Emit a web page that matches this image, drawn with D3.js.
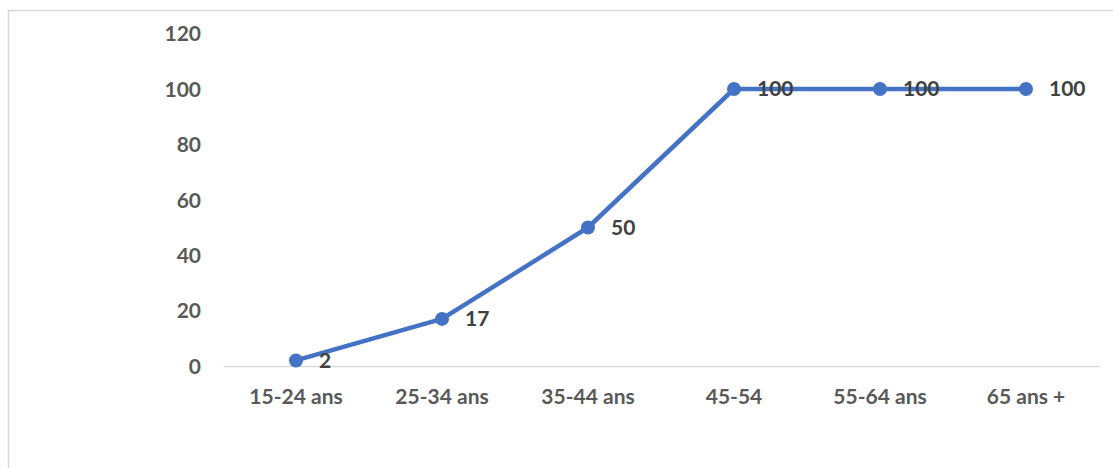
<!DOCTYPE html>
<html>
<head>
<meta charset="utf-8">
<script src="https://cdn.jsdelivr.net/npm/d3@7"></script>
<style>
html,body{margin:0;padding:0;background:#fff;}
svg{display:block;}
text{font-family:Lato,"Open Sans",sans-serif;font-weight:bold;}
</style>
</head>
<body>
<svg id="chart" width="1113" height="468"></svg>
<script>
const categories = ["15-24 ans","25-34 ans","35-44 ans","45-54","55-64 ans","65 ans +"];
const values = [2,17,50,100,100,100];
const yTicks = [0,20,40,60,80,100,120];

(function(){
const svg = d3.select("#chart");
const plotLeft = 223, plotRight = 1099, plotTop = 33.6, plotBottom = 366;
const fs = 21;

// chart border
svg.append("rect").attr("x",8.5).attr("y",10.5).attr("width",1200).attr("height",600)
  .attr("fill","none").attr("stroke","#d9d9d9").attr("stroke-width",1.5);

const x = d3.scaleBand().domain(categories).range([plotLeft,plotRight]).padding(0);
const y = d3.scaleLinear().domain([0,120]).range([plotBottom,plotTop]);

// y axis labels
const yAxis = d3.axisLeft(y).tickValues(yTicks).tickSize(0).tickPadding(0);
const gy = svg.append("g").attr("transform",`translate(${201},0)`).call(yAxis);
gy.select(".domain").remove();
gy.selectAll("text").attr("font-size",fs).attr("fill","#595959")
  .attr("font-family","Lato,'Open Sans',sans-serif").attr("font-weight","bold")
  .attr("dy","0.35em");

// x axis
const xAxis = d3.axisBottom(x).tickSize(0).tickPadding(0);
const gx = svg.append("g").attr("transform",`translate(0,${plotBottom})`).call(xAxis);
gx.select(".domain").attr("stroke","#d9d9d9").attr("stroke-width",1.5);
gx.selectAll("text").attr("font-size",fs).attr("fill","#595959")
  .attr("font-family","Lato,'Open Sans',sans-serif").attr("font-weight","bold")
  .attr("dy","0").attr("y",38);

const cx = d => x(d) + x.bandwidth()/2;
const data = categories.map((c,i)=>({c,v:values[i]}));

const line = d3.line().x(d=>cx(d.c)).y(d=>y(d.v));
svg.append("path").datum(data).attr("d",line).attr("fill","none")
  .attr("stroke","#4472c4").attr("stroke-width",4.5).attr("stroke-linejoin","round");

svg.append("g").selectAll("circle").data(data).join("circle")
  .attr("cx",d=>cx(d.c)).attr("cy",d=>y(d.v)).attr("r",7).attr("fill","#4472c4");

svg.append("g").selectAll("text").data(data).join("text")
  .attr("x",d=>cx(d.c)+23).attr("y",d=>y(d.v)).attr("dy","0.35em")
  .attr("font-size",fs).attr("fill","#404040").text(d=>d.v);
})();
</script>
</body>
</html>
